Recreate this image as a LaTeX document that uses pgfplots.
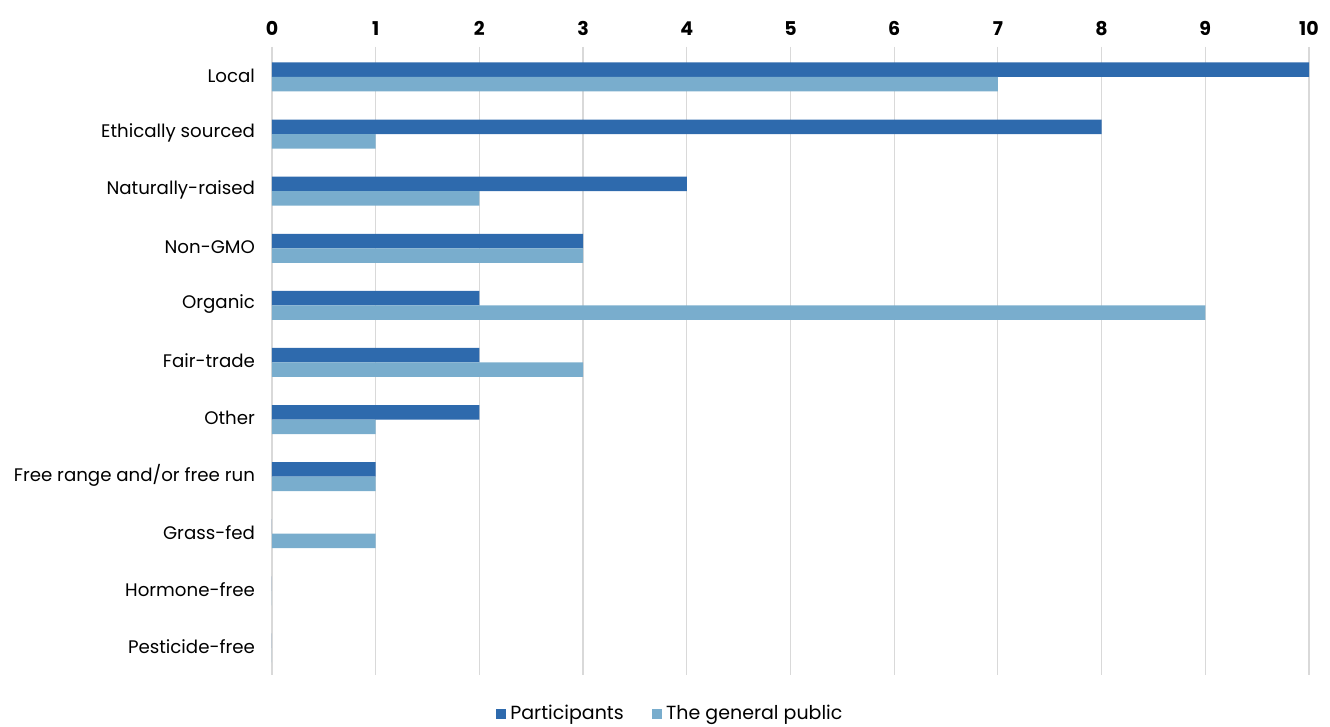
\documentclass[border=0pt]{standalone}
\usepackage{pgfplots}
\pgfplotsset{compat=1.18}
\usepackage{fontspec}
\setmainfont{Poppins}
\definecolor{dark}{RGB}{46,106,173}
\definecolor{light}{RGB}{121,173,205}
\definecolor{gridc}{RGB}{217,217,217}
\begin{document}
\begin{tikzpicture}
\begin{axis}[
  name=ax,
  scale only axis,
  width=518.5pt, height=314pt,
  xbar, bar width=7.25pt,
  xmin=0, xmax=10,
  ymin=-0.5, ymax=10.5,
  y dir=reverse,
  ytick={0,...,10},
  yticklabels={Local,Ethically sourced,Naturally-raised,Non-GMO,Organic,Fair-trade,Other\ ,Free range and/or free run,Grass-fed,Hormone-free,Pesticide-free},
  xtick={0,...,10},
  xticklabel pos=top,
  xticklabel style={font=\fontsize{9.5}{11}\selectfont\bfseries, yshift=2pt},
  yticklabel style={font=\fontsize{9.1}{11}\selectfont, xshift=-5pt},
  /pgf/number format/assume math mode=true,
  major tick length=0pt,
  axis line style={draw=none},
  xmajorgrids, grid style={gridc, line width=0.6pt},
  legend columns=2,
  legend style={draw=none, at={(0.385,0)}, anchor=north, yshift=-11pt, font=\fontsize{9.5}{11}\selectfont, /tikz/every even column/.append style={column sep=12pt}},
  legend image code/.code={\fill[#1] (0pt,-2.6pt) rectangle (5.2pt,2.6pt);},
]
\addplot[fill=dark, draw=none, bar shift=2.9pt] coordinates {(10,0) (8,1) (4,2) (3,3) (2,4) (2,5) (2,6) (1,7) (0,8) (0,9) (0,10)};
\addplot[fill=light, draw=none, bar shift=-4.35pt] coordinates {(7,0) (1,1) (2,2) (3,3) (9,4) (3,5) (1,6) (1,7) (1,8) (0,9) (0,10)};
\legend{Participants,The general public}
\coordinate (bl) at (rel axis cs:0,0);
\coordinate (tr) at (rel axis cs:1,1);
\end{axis}
\pgfresetboundingbox
\path ([shift={(-136pt,-26pt)}]bl) rectangle ([shift={(10.5pt,23.5pt)}]tr);
\end{tikzpicture}
\end{document}
